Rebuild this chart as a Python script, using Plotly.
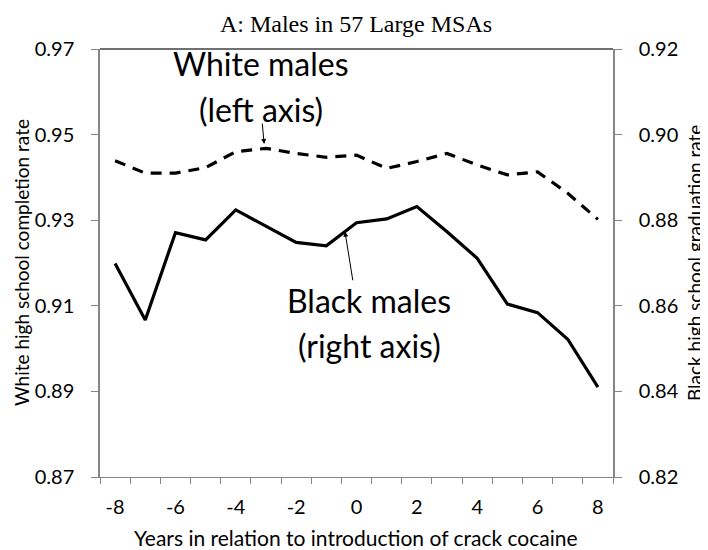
import plotly.graph_objects as go

years = list(range(-8, 9))
white_males = [0.9439, 0.9410, 0.9410, 0.9423, 0.9460, 0.9468, 0.9456, 0.9447, 0.9452,
               0.9421, 0.9437, 0.9456, 0.9429, 0.9406, 0.9413, 0.9363, 0.9302]
black_males = [0.8699, 0.8567, 0.8771, 0.8754, 0.8824, 0.8785, 0.8748, 0.8740, 0.8794,
               0.8803, 0.8832, 0.8773, 0.8711, 0.8604, 0.8584, 0.8522, 0.8410]
x_tick_vals = [-8, -6, -4, -2, 0, 2, 4, 6, 8]
left_ticks = [0.87, 0.89, 0.91, 0.93, 0.95, 0.97]
right_ticks = [0.82, 0.84, 0.86, 0.88, 0.90, 0.92]

FONT = "Lato, 'Open Sans', sans-serif"
AX = "#868686"

# page has an 8px body margin; figure sized so the plot area lands at page x 100-613, y 49-477
W, H = 700, 542
L, R, T, B = 92, 95, 41, 73
PW, PH = W - L - R, H - T - B


def px(xp):  # page x -> paper
    return (xp - 8 - L) / PW


def py(yp):  # page y -> paper
    return (H - B - (yp - 8)) / PH


fig = go.Figure()
fig.add_trace(go.Scatter(x=years, y=white_males, mode="lines", yaxis="y",
                         line=dict(color="black", width=3.2, dash="11px,8px"),
                         showlegend=False))
fig.add_trace(go.Scatter(x=years, y=black_males, mode="lines", yaxis="y2",
                         line=dict(color="black", width=3.2),
                         showlegend=False))

fig.update_layout(
    width=W, height=H,
    margin=dict(l=L, r=R, t=T, b=B),
    paper_bgcolor="white", plot_bgcolor="white",
    font=dict(family=FONT, color="black"),
    title=dict(text="A: Males in 57 Large MSAs", x=px(356) * PW / W + L / W, xanchor="center",
               y=1 - (24 - 8) / H, yanchor="middle", yref="container", xref="container",
               font=dict(family="'Liberation Serif', serif", size=24, color="black")),
    xaxis=dict(range=[-8.5, 8.5], tickmode="array", tickvals=x_tick_vals,
               ticktext=[str(v) for v in x_tick_vals], ticks="",
               showline=True, linecolor=AX, linewidth=1, showgrid=False, zeroline=False,
               tickfont=dict(size=20), ticklabelstandoff=12,
               minor=dict(tick0=-8.5, dtick=1, ticks="outside", ticklen=6,
                          tickcolor=AX, tickwidth=1, showgrid=False)),
    yaxis=dict(range=[0.87, 0.97], tickmode="array", tickvals=left_ticks,
               ticktext=[f"{v:.2f}" for v in left_ticks], ticks="outside", ticklen=7,
               tickcolor=AX, showline=True, linecolor=AX, linewidth=1.5,
               showgrid=False, zeroline=False, tickfont=dict(size=20),
               ticklabelstandoff=13),
    yaxis2=dict(range=[0.82, 0.92], overlaying="y", side="right", tickmode="array",
                tickvals=right_ticks, ticktext=[f"{v:.2f}" for v in right_ticks],
                ticks="outside", ticklen=7, tickcolor=AX, showline=True,
                linecolor=AX, linewidth=1.5, showgrid=False, zeroline=False,
                tickfont=dict(size=20), ticklabelstandoff=13),
)

# top border of plot area
fig.add_shape(type="line", xref="paper", yref="paper", x0=0, x1=1, y0=1, y1=1,
              line=dict(color="#404040", width=1.5))

ann = [
    dict(text="White males", x=px(261), y=py(64)),
    dict(text="(left axis)", x=px(261), y=py(109)),
    dict(text="Black males", x=px(369), y=py(300)),
    dict(text="(right axis)", x=px(369), y=py(345)),
]
for a in ann:
    fig.add_annotation(text=a["text"], x=a["x"], y=a["y"], xref="paper", yref="paper",
                       showarrow=False, xanchor="center", yanchor="middle",
                       font=dict(size=32, family=FONT, color="black"))

# arrows
fig.add_annotation(x=-3.06, y=0.9478, xref="x", yref="y", ax=-2, ay=-22, text="",
                   showarrow=True, arrowhead=2, arrowsize=1, arrowwidth=1, arrowcolor="black")
fig.add_annotation(x=-0.38, y=0.8773, xref="x", yref="y2", ax=8, ay=50, text="",
                   showarrow=True, arrowhead=2, arrowsize=1, arrowwidth=1, arrowcolor="black")

# axis titles
fig.add_annotation(text="White high school completion rate", textangle=-90,
                   x=px(21), y=py(263), xref="paper", yref="paper",
                   showarrow=False, xanchor="center", yanchor="middle",
                   font=dict(size=19, family=FONT))
fig.add_annotation(text="Black high school graduation rate", textangle=-90,
                   x=px(694), y=py(263), xref="paper", yref="paper",
                   showarrow=False, xanchor="center", yanchor="middle",
                   font=dict(size=19, family=FONT))
fig.add_annotation(text="Years in relation to introduction of crack cocaine",
                   x=px(356), y=py(537), xref="paper", yref="paper",
                   showarrow=False, xanchor="center", yanchor="middle",
                   font=dict(size=21, family=FONT))

fig.write_html("out.html")
